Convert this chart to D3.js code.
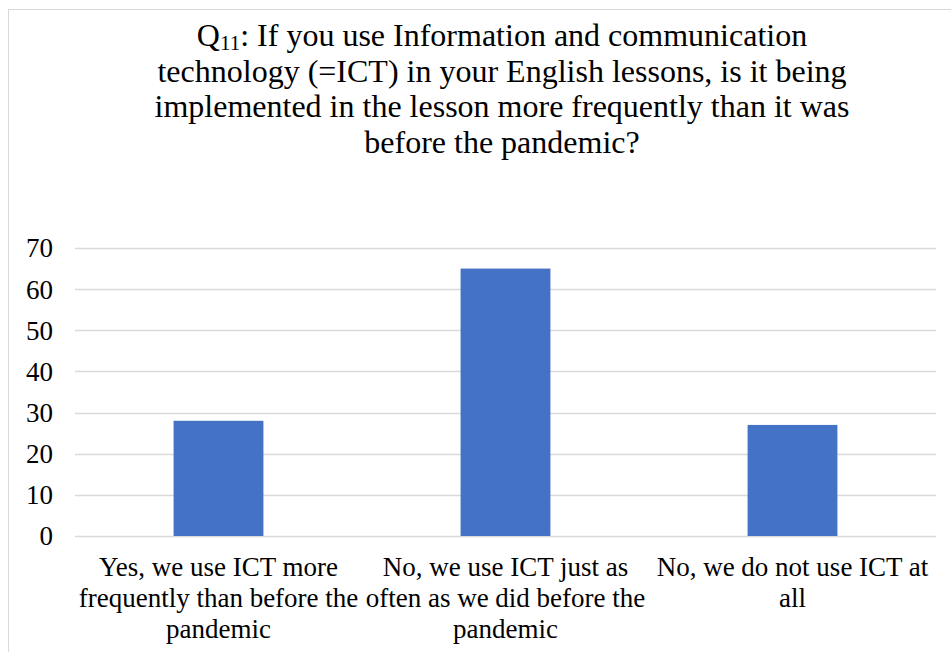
<!DOCTYPE html>
<html>
<head>
<meta charset="utf-8">
<script src="https://d3js.org/d3.v7.min.js"></script>
<style>
  body { margin: 0; background: #fff; }
  text { font-family: "Liberation Serif", "Times New Roman", serif; fill: #000; }
</style>
</head>
<body>
<div id="chart"></div>
<script>
var width = 951,
  height = 652;

// data
var categories = [
  ["Yes, we use ICT more", "frequently than before the", "pandemic"],
  ["No, we use ICT just as", "often as we did before the", "pandemic"],
  ["No, we do not use ICT at", "all"]
];
var values = [28, 65, 27];
var yTicks = [0, 10, 20, 30, 40, 50, 60, 70];
var titleLines = [
  "technology (=ICT) in your English lessons, is it being",
  "implemented in the lesson more frequently than it was",
  "before the pandemic?"
];

var margin = {top: 248, right: 15, bottom: 116, left: 75};

var svg = d3.select("#chart").append("svg")
    .attr("width", width)
    .attr("height", height);

// chart border
svg.append("rect")
    .attr("x", 8.5)
    .attr("y", 9.5)
    .attr("width", width)
    .attr("height", height)
    .attr("fill", "none")
    .attr("stroke", "#d9d9d9");

var x = d3.scaleBand()
    .domain(d3.range(categories.length))
    .range([margin.left, width - margin.right])
    .padding(0);

var y = d3.scaleLinear()
    .domain([0, 70])
    .range([height - margin.bottom, margin.top]);

// gridlines
svg.selectAll("line.grid").data(yTicks).enter().append("line")
    .attr("class", "grid")
    .attr("x1", margin.left)
    .attr("x2", width - margin.right)
    .attr("y1", function(d){ return Math.round(y(d)) + 0.5; })
    .attr("y2", function(d){ return Math.round(y(d)) + 0.5; })
    .attr("stroke", "#d9d9d9")
    .attr("stroke-width", 1.3);

// y tick labels
svg.selectAll("text.ytick").data(yTicks).enter().append("text")
    .attr("class", "ytick")
    .attr("x", 53)
    .attr("y", function(d){ return y(d); })
    .attr("dy", "0.35em")
    .attr("text-anchor", "end")
    .style("font-size", "27px")
    .text(function(d){ return d; });

// bars
var barW = x.bandwidth() * 0.313;
svg.selectAll("rect.bar").data(values).enter().append("rect")
    .attr("class", "bar")
    .attr("x", function(d, i){ return x(i) + (x.bandwidth() - barW) / 2; })
    .attr("y", function(d){ return y(d); })
    .attr("width", barW)
    .attr("height", function(d){ return y(0) - y(d); })
    .attr("fill", "#4472c4");

// category labels
var cats = svg.selectAll("text.cat").data(categories).enter().append("text")
    .attr("class", "cat")
    .attr("text-anchor", "middle")
    .style("font-size", "27px");
cats.selectAll("tspan").data(function(d, i){ return d.map(function(t){ return {t: t, i: i}; }); })
  .enter().append("tspan")
    .attr("x", function(d){ return x(d.i) + x.bandwidth() / 2; })
    .attr("y", function(d, j){ return 576 + j * 31; })
    .text(function(d){ return d.t; });

// title
var cx = 502;
var t1 = svg.append("text")
    .attr("x", cx)
    .attr("y", 46)
    .attr("text-anchor", "middle")
    .style("font-size", "32px");
t1.append("tspan").text("Q");
t1.append("tspan").attr("dy", 4).style("font-size", "21px").text("11");
t1.append("tspan").attr("dy", -4).text(": If you use Information and communication");

svg.selectAll("text.title").data(titleLines).enter().append("text")
    .attr("class", "title")
    .attr("x", cx)
    .attr("y", function(d, i){ return 81.5 + i * 35.5; })
    .attr("text-anchor", "middle")
    .style("font-size", "32px")
    .text(function(d){ return d; });
</script>
</body>
</html>
